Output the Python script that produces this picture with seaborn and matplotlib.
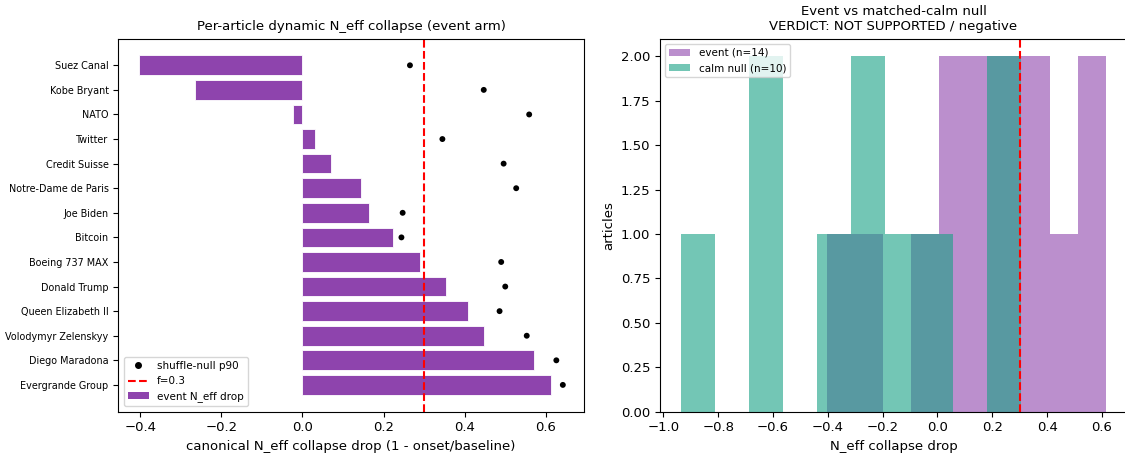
import matplotlib
matplotlib.use("Agg")
import matplotlib.pyplot as plt
import seaborn as sns
import pandas as pd
from matplotlib.lines import Line2D
from matplotlib.patches import Patch
from matplotlib.ticker import FormatStrFormatter

articles = ["Suez Canal", "Kobe Bryant", "NATO", "Twitter", "Credit Suisse",
            "Notre-Dame de Paris", "Joe Biden", "Bitcoin", "Boeing 737 MAX",
            "Donald Trump", "Queen Elizabeth II", "Volodymyr Zelenskyy",
            "Diego Maradona", "Evergrande Group"]
event_drop = [-0.402, -0.265, -0.023, 0.030, 0.071, 0.145, 0.165, 0.224,
              0.291, 0.354, 0.408, 0.447, 0.572, 0.614]
null_p90 = [0.265, 0.447, 0.559, 0.345, 0.496, 0.527, 0.247, 0.244,
            0.490, 0.500, 0.486, 0.553, 0.626, 0.642]
calm_drop = [-0.935, -0.65, -0.60, -0.38, -0.28, -0.22, -0.12, 0.0, 0.22, 0.305]
threshold = 0.3

PURPLE = "#8E44AD"
TEAL = "#16A085"
FS = 9.5

df = pd.DataFrame({"article": articles, "drop": event_drop, "p90": null_p90})

W, H = 1125, 454
fig = plt.figure(figsize=(W / 100, H / 100), dpi=100)
ax1 = fig.add_axes([118.3 / W, (H - 411.7) / H, 465.7 / W, 373.2 / H])
ax2 = fig.add_axes([660.0 / W, (H - 411.7) / H, 467.0 / W, 373.2 / H])

sns.barplot(data=df, y="article", x="drop", orient="h", color=PURPLE,
            saturation=1, ax=ax1, edgecolor="white", linewidth=0.6, width=0.8)
sns.scatterplot(data=df, y="article", x="p90", color="black", s=18,
                edgecolor="none", ax=ax1, zorder=3)
ax1.axvline(threshold, color="red", ls="--", lw=1.5)
ax1.set_title("Per-article dynamic N_eff collapse (event arm)", fontsize=FS)
ax1.set_xlabel("canonical N_eff collapse drop (1 - onset/baseline)", fontsize=FS)
ax1.set_ylabel("")
ax1.tick_params(axis="y", labelsize=6.9)
ax1.tick_params(axis="x", labelsize=FS)
ax1.margins(x=0.05)
handles = [
    Line2D([], [], marker="o", color="black", ls="none", markersize=4),
    Line2D([], [], color="red", ls="--", lw=1.5),
    Patch(facecolor=PURPLE),
]
ax1.legend(handles, ["shuffle-null p90", f"f={threshold}", "event N_eff drop"],
           loc="lower left", fontsize=7.5)

sns.histplot(x=event_drop, bins=10, color=PURPLE, alpha=0.6, linewidth=0,
             ax=ax2, label=f"event (n={len(event_drop)})")
sns.histplot(x=calm_drop, bins=10, color=TEAL, alpha=0.6, linewidth=0,
             ax=ax2, label=f"calm null (n={len(calm_drop)})")
ax2.axvline(threshold, color="red", ls="--", lw=1.5)
ax2.set_title("Event vs matched-calm null\nVERDICT: NOT SUPPORTED / negative",
              fontsize=FS)
ax2.set_xlabel("N_eff collapse drop", fontsize=FS)
ax2.set_ylabel("articles", fontsize=FS)
ax2.tick_params(labelsize=FS)
ax2.set_yticks([0, 0.25, 0.5, 0.75, 1.0, 1.25, 1.5, 1.75, 2.0])
ax2.yaxis.set_major_formatter(FormatStrFormatter("%.2f"))
ax2.legend(loc="upper left", fontsize=7.5)

fig.savefig("out.png", dpi=100)
